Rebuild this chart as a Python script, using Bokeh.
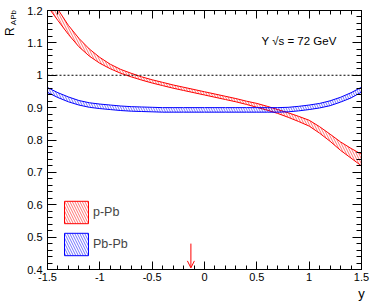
import math
from bokeh.plotting import figure
from bokeh.models import (ColumnDataSource, FixedTicker, LinearAxis, Legend, LegendItem,
                          Label, Span, Arrow, OpenHead)
from bokeh.embed import file_html
from bokeh.resources import INLINE

# ---- data ----
rap = [-1.5, -1.4, -1.3, -1.2, -1.1, -1.0, -0.9, -0.8, -0.7, -0.6, -0.5, -0.4, -0.3, -0.2, -0.1,
       0.0, 0.1, 0.2, 0.3, 0.4, 0.5, 0.6, 0.7, 0.8, 0.9, 1.0, 1.1, 1.2, 1.3, 1.4, 1.5]

ppb_lo = [1.213, 1.169, 1.126, 1.088, 1.059, 1.037, 1.020, 1.006, 0.995, 0.985, 0.976, 0.968, 0.960,
          0.953, 0.946, 0.939, 0.932, 0.925, 0.918, 0.910, 0.901, 0.892, 0.882, 0.870, 0.857, 0.843,
          0.821, 0.796, 0.768, 0.744, 0.720]
ppb_hi = [1.251, 1.203, 1.154, 1.114, 1.081, 1.055, 1.034, 1.018, 1.006, 0.995, 0.986, 0.978, 0.970,
          0.963, 0.956, 0.949, 0.942, 0.935, 0.928, 0.920, 0.913, 0.904, 0.894, 0.884, 0.873, 0.861,
          0.841, 0.818, 0.794, 0.774, 0.756]

pbpb_lo = [0.947, 0.931, 0.918, 0.908, 0.901, 0.897, 0.894, 0.891, 0.889, 0.888, 0.887, 0.886, 0.886,
           0.886, 0.886, 0.886, 0.886, 0.886, 0.886, 0.886, 0.886, 0.886, 0.886, 0.887, 0.890, 0.894,
           0.899, 0.906, 0.917, 0.930, 0.948]
pbpb_hi = [0.962, 0.946, 0.933, 0.922, 0.915, 0.911, 0.908, 0.905, 0.903, 0.902, 0.901, 0.900, 0.900,
           0.900, 0.900, 0.900, 0.900, 0.900, 0.900, 0.900, 0.900, 0.900, 0.900, 0.901, 0.904, 0.908,
           0.913, 0.921, 0.932, 0.946, 0.963]

series_labels = ["p-Pb", "Pb-Pb"]
ref_level = 1.0
arrow_x = -0.13
arrow_y = [0.48, 0.405]

x_major = [-1.5, -1.0, -0.5, 0.0, 0.5, 1.0, 1.5]
x_labels = ["-1.5", "-1", "-0.5", "0", "0.5", "1", "1.5"]
y_major = [0.4, 0.5, 0.6, 0.7, 0.8, 0.9, 1.0, 1.1, 1.2]
y_labels = ["0.4", "0.5", "0.6", "0.7", "0.8", "0.9", "1", "1.1", "1.2"]

# y-axis title "R_APb" (placed at the top of the axis, ROOT style)
ytitle_main = "R"
ytitle_sub = "APb"
ytitle_main_pos = 1.135   # vertical centre of "R" along the axis
ytitle_sub_pos = 1.178    # vertical centre of "APb" along the axis

FONT = "Liberation Sans"

x_minor = [round(-1.5 + 0.1 * i, 2) for i in range(31)]
y_minor = [round(0.4 + 0.02 * i, 2) for i in range(41)]

p = figure(width=387, height=307, x_range=(-1.5, 1.5), y_range=(0.4, 1.2),
           output_backend="svg", toolbar_location=None,
           min_border_left=46, min_border_right=26, min_border_top=10, min_border_bottom=38)
p.xgrid.visible = False
p.ygrid.visible = False
p.outline_line_color = "black"
p.background_fill_color = "white"
p.border_fill_color = "white"

def style_axis(ax, major, labels, minor, maj_len, min_len, show_labels=True):
    ax.ticker = FixedTicker(ticks=major, minor_ticks=minor)
    ax.major_tick_in = maj_len
    ax.major_tick_out = 0
    ax.minor_tick_in = min_len
    ax.minor_tick_out = 0
    ax.axis_line_color = "black"
    ax.major_tick_line_color = "black"
    ax.minor_tick_line_color = "black"
    if show_labels:
        ax.major_label_overrides = {float(v): t for v, t in zip(major, labels)}
        ax.major_label_text_font = FONT
        ax.major_label_text_font_size = "11px"
        ax.major_label_text_color = "black"
    else:
        ax.major_label_text_font_size = "0px"
        ax.major_label_standoff = 0

xa = p.xaxis[0]
style_axis(xa, x_major, x_labels, x_minor, 8, 4)
xa.major_label_standoff = 3
xa.axis_label = "y"
xa.axis_label_align = "end"
xa.axis_label_standoff = 2
xa.axis_label_text_font = FONT
xa.axis_label_text_font_size = "13px"
xa.axis_label_text_font_style = "normal"
xa.axis_label_text_color = "black"

ya = p.yaxis[0]
style_axis(ya, y_major, y_labels, y_minor, 9, 5)
ya.major_label_standoff = 5

# label-only axes stacked left of the y axis, carrying "R" and its subscript
def title_axis(pos, text, size, standoff):
    ax = LinearAxis(ticker=FixedTicker(ticks=[pos]))
    ax.major_label_overrides = {pos: text}
    ax.major_label_orientation = "vertical"
    ax.major_label_standoff = standoff
    ax.major_label_text_font = FONT
    ax.major_label_text_font_size = size
    ax.major_label_text_color = "black"
    ax.axis_line_alpha = 0
    ax.major_tick_out = 0
    ax.major_tick_in = 0
    ax.minor_tick_out = 0
    ax.minor_tick_in = 0
    return ax

p.add_layout(title_axis(ytitle_sub_pos, ytitle_sub, "8px", 6), "left")
p.add_layout(title_axis(ytitle_main_pos, ytitle_main, "12px", -11), "left")

top = LinearAxis()
style_axis(top, x_major, x_labels, x_minor, 8, 4, show_labels=False)
p.add_layout(top, "above")
right = LinearAxis()
style_axis(right, y_major, y_labels, y_minor, 9, 5, show_labels=False)
p.add_layout(right, "right")

# ---- bands ----
def band(lo, hi, color):
    xs = rap + rap[::-1]
    ys = hi + lo[::-1]
    src = ColumnDataSource(dict(x=xs, y=ys))
    return p.patch("x", "y", source=src, line_color=color, line_width=1, fill_alpha=0,
                   hatch_pattern="\\", hatch_color=color, hatch_scale=5, hatch_weight=0.6,
                   hatch_alpha=0.9)

r_ppb = band(ppb_lo, ppb_hi, "#ff0000")
r_pbpb = band(pbpb_lo, pbpb_hi, "#0000ff")

p.add_layout(Span(location=ref_level, dimension="width", line_color="black",
                  line_dash="2 2", line_width=1))

p.add_layout(Arrow(end=OpenHead(size=7, line_color="#ff0000", line_width=1),
                   x_start=arrow_x, y_start=arrow_y[0], x_end=arrow_x, y_end=arrow_y[1],
                   line_color="#ff0000", line_width=1))

legend = Legend(items=[LegendItem(label=series_labels[0], renderers=[r_ppb]),
                       LegendItem(label=series_labels[1], renderers=[r_pbpb])],
                location=(14, 11), glyph_width=30, glyph_height=28, spacing=4,
                label_standoff=2, padding=0, margin=0, border_line_alpha=0,
                background_fill_alpha=0, label_text_font=FONT,
                label_text_font_size="12.5px", label_height=28)
p.add_layout(legend)

# ---- texts ----
p.add_layout(Label(x=214, y=229, x_units="screen", y_units="screen", text="\u03a5 \u221as = 72 GeV",
                   text_font=FONT, text_font_size="11.5px", text_color="black",
                   text_baseline="alphabetic", text_align="left"))

open("out.html", "w").write(file_html(p, INLINE))
